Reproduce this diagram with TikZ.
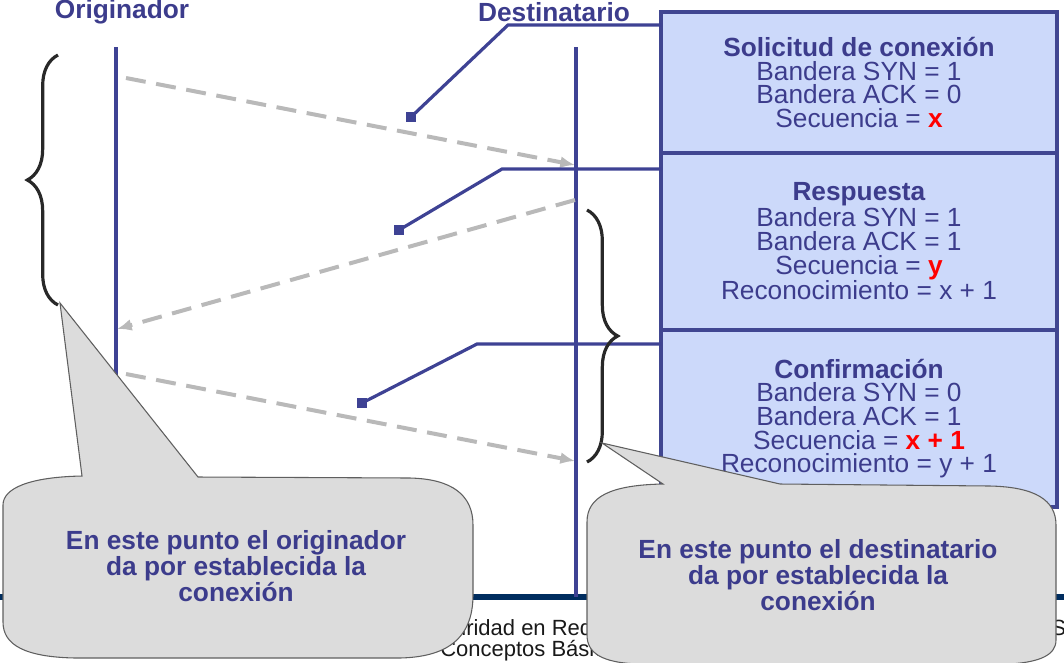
\documentclass[tikz,border=0pt]{standalone}
\usepackage{fontspec}
\setmainfont{Liberation Sans}
\usetikzlibrary{positioning,arrows.meta,decorations.pathreplacing}

\definecolor{navytext}{RGB}{60,60,140}
\definecolor{linecol}{RGB}{62,66,148}
\definecolor{boxfill}{RGB}{204,217,250}
\definecolor{boxdraw}{RGB}{64,70,145}
\definecolor{dashgray}{RGB}{185,185,185}
\definecolor{bracecol}{RGB}{40,40,40}
\definecolor{bubblefill}{RGB}{220,220,220}
\definecolor{bubbledraw}{RGB}{95,95,95}
\definecolor{barcol}{RGB}{0,45,95}
\definecolor{footcol}{RGB}{25,25,25}

\begin{document}
\begin{tikzpicture}[x=0.75pt,y=-0.75pt,>={Latex[length=11pt,width=9pt]},
  lifeline/.style={draw=linecol, line width=2.3pt},
  msg/.style={->, draw=dashgray, line width=3pt, dash pattern=on 15pt off 8pt},
  leader/.style={draw=linecol, line width=2.4pt},
  marker/.style={fill=linecol, minimum size=7pt, inner sep=0pt},
  segbox/.style={draw=boxdraw, fill=boxfill, line width=3pt, outer sep=0pt,
    minimum width=297pt, minimum height=132.75pt, align=center, text=navytext,
    font=\fontsize{19.7}{17.7}\selectfont},
  curly/.style={draw=bracecol, line width=2.4pt, decorate,
    decoration={brace, amplitude=23pt}},
  bubble/.style={fill=bubblefill, draw=bubbledraw, line width=0.8pt},
  bubbletext/.style={align=center, text=navytext,
    font=\bfseries\fontsize{19.7}{19.8}\selectfont},
  actor/.style={text=navytext, font=\bfseries\fontsize{19.7}{20}\selectfont},
  footer/.style={anchor=base west, text=footcol, inner sep=0pt,
    font=\fontsize{16.5}{18}\selectfont}]

  \useasboundingbox (0,0) rectangle (1064,662);

  % Footer (mostly hidden)
  \draw[barcol, line width=5pt] (0,597) -- (1064,597);
  \node[footer] (foot1) at (466,635) {\llap{Segu}ridad en Redes};
  \node[footer] (foot2) at (440,656) {Conceptos Básicos};
  \node[footer] (foot3) at (1051,635) {S};

  % Actors
  \node[actor] (orig) at (122,12) {Originador};
  \node[actor] (dest) at (554,12) {Destinatario};

  % Lifelines
  \coordinate (otop) at (116,47);
  \coordinate (obot) at (116,380);
  \coordinate (dtop) at (576,47);
  \coordinate (dbot) at (576,597);
  \draw[lifeline] (otop) -- (obot);
  \draw[lifeline] (dtop) -- (dbot);

  % Segments
  \coordinate (s1) at (126,78);   \coordinate (r1) at (575,165);
  \coordinate (s2) at (575,200);  \coordinate (r2) at (117,329);
  \coordinate (s3) at (126,374);  \coordinate (r3) at (575,461);
  \draw[msg] (s1) -- (r1);
  \draw[msg] (s2) -- (r2);
  \draw[msg] (s3) -- (r3);

  % Segment boxes
  \node[segbox, minimum height=105.75pt] (req) at (859,82.5)
    {\textbf{Solicitud de conexión}\\Bandera SYN = 1\\Bandera ACK = 0\\
     Secuencia = \textcolor{red}{\textbf{x}}};
  \node[segbox, below=0pt of req] (resp)
    {\textbf{Respuesta}\\Bandera SYN = 1\\Bandera ACK = 1\\
     Secuencia = \textcolor{red}{\textbf{y}}\\Reconocimiento = x + 1};
  \node[segbox, below=0pt of resp] (conf)
    {\textbf{Confirmación}\\Bandera SYN = 0\\Bandera ACK = 1\\
     Secuencia = \textcolor{red}{\textbf{x + 1}}\\Reconocimiento = y + 1};

  % Leaders from boxes to segments
  \node[marker] (m1) at (411,117) {};
  \node[marker] (m2) at (399,230) {};
  \node[marker] (m3) at (362,403) {};
  \coordinate (k1) at (req.west |- 0,25);
  \coordinate (k2) at (resp.west |- 0,169);
  \coordinate (k3) at (conf.west |- 0,344);
  \draw[leader] (k1) -- (508,25) -- (m1.center);
  \draw[leader] (k2) -- (502,169) -- (m2.center);
  \draw[leader] (k3) -- (477,344) -- (m3.center);

  % Braces
  \coordinate (b1a) at (58,305);  \coordinate (b1b) at (58,55);
  \coordinate (b2a) at (587,210); \coordinate (b2b) at (587,462);
  \draw[curly] (b1a) -- (b1b);
  \draw[curly] (b2a) -- (b2b);

  % Callouts
  \coordinate (lt) at (60,303);
  \coordinate (rt) at (602,443);
  \draw[bubble] (82,476) -- (lt) -- (198,477) -- (410,478)
    .. controls (452,479) and (473,495) .. (473,525) -- (473,595)
    .. controls (473,640) and (445,657) .. (400,658) -- (75,658)
    .. controls (25,657) and (3,645) .. (3,622) -- (3,505)
    .. controls (3,488) and (30,477) .. (82,476) -- cycle;
  \draw[bubble] (663,484) -- (rt) -- (780,484) -- (990,486)
    .. controls (1035,487) and (1056,500) .. (1056,525) -- (1056,640)
    .. controls (1056,655) and (1040,662) .. (1010,664) -- (640,664)
    .. controls (600,663) and (587,652) .. (587,635) -- (587,522)
    .. controls (587,497) and (610,485) .. (663,484) -- cycle;
  \node[bubbletext] (ltxt) at (236,566)
    {En este punto el originador\\da por establecida la\\conexión};
  \node[bubbletext] (rtxt) at (818,575)
    {En este punto el destinatario\\da por establecida la\\conexión};

\end{tikzpicture}
\end{document}
